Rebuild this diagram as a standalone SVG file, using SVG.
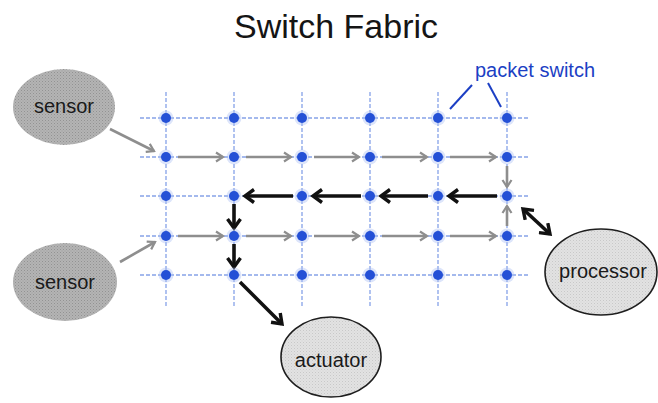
<svg xmlns="http://www.w3.org/2000/svg" width="658" height="403" viewBox="0 0 658 403">
  <defs>
    <style>
      .title { font-family: "Liberation Sans", Arial, sans-serif; font-size: 34px; fill: #151515; text-anchor: middle; }
      .label { font-family: "Liberation Sans", Arial, sans-serif; font-size: 20px; fill: #1a1a1a; text-anchor: middle; }
      .blue-label { font-family: "Liberation Sans", Arial, sans-serif; font-size: 20px; fill: #1c3fc4; }
      .grid { stroke: #86a2e8; stroke-width: 1.3; stroke-dasharray: 4 2; fill: none; }
      .halo { fill: #a9bff2; opacity: 0.4; }
      .dot { fill: #2450d6; }
      .gray { stroke: #8e8e8e; stroke-width: 2.6; fill: none; marker-end: url(#headGray); }
      .black { stroke: #111; stroke-width: 3.6; fill: none; marker-end: url(#headBlack); }
      .pointer { stroke: #1c3fc4; stroke-width: 2; fill: none; }
      .sensor { fill: url(#texDark); }
      .device { fill: url(#texLight); stroke: #1e1e1e; stroke-width: 1.6; }
    </style>
    <pattern id="texDark" width="3" height="3" patternUnits="userSpaceOnUse">
      <rect width="3" height="3" fill="#b4b4b4"/>
      <rect width="1" height="1" fill="#929292"/>
      <rect x="1.5" y="1.5" width="1" height="1" fill="#9e9e9e"/>
    </pattern>
    <pattern id="texLight" width="3" height="3" patternUnits="userSpaceOnUse">
      <rect width="3" height="3" fill="#e2e2e2"/>
      <rect width="1" height="1" fill="#c8c8c8"/>
      <rect x="1.5" y="1.5" width="1" height="1" fill="#d2d2d2"/>
    </pattern>
    <marker id="headGray" markerUnits="userSpaceOnUse" markerWidth="12" markerHeight="12" viewBox="0 0 12 12" refX="10" refY="6" orient="auto">
      <path d="M3,1.5 L10,6 L3,10.5" fill="none" stroke="#8e8e8e" stroke-width="2.2"/>
    </marker>
    <marker id="headBlack" markerUnits="userSpaceOnUse" markerWidth="16" markerHeight="16" viewBox="0 0 16 16" refX="13" refY="8" orient="auto-start-reverse">
      <path d="M4,1.5 L13,8 L4,14.5" fill="none" stroke="#111" stroke-width="3.4"/>
    </marker>
  </defs>

  <rect width="658" height="403" fill="#ffffff"/>

  <text class="title" x="336" y="38">Switch Fabric</text>

  <!-- fabric wiring: rows and columns -->
  <g id="fabric-grid">
    <line class="grid" x1="140" y1="118" x2="530" y2="118"/>
    <line class="grid" x1="140" y1="157" x2="530" y2="157"/>
    <line class="grid" x1="140" y1="196" x2="530" y2="196"/>
    <line class="grid" x1="140" y1="236" x2="530" y2="236"/>
    <line class="grid" x1="140" y1="275" x2="530" y2="275"/>
    <line class="grid" x1="166" y1="92" x2="166" y2="307"/>
    <line class="grid" x1="234" y1="92" x2="234" y2="307"/>
    <line class="grid" x1="302" y1="92" x2="302" y2="307"/>
    <line class="grid" x1="370" y1="92" x2="370" y2="307"/>
    <line class="grid" x1="438" y1="92" x2="438" y2="307"/>
    <line class="grid" x1="507" y1="92" x2="507" y2="307"/>
  </g>

  <!-- sources, sink and processor -->
  <g id="sensor-top">
    <ellipse class="sensor" cx="64" cy="107" rx="51" ry="38"/>
    <text class="label" x="64" y="113">sensor</text>
  </g>
  <g id="sensor-bottom">
    <ellipse class="sensor" cx="65" cy="282" rx="52" ry="39"/>
    <text class="label" x="65" y="289">sensor</text>
  </g>
  <g id="actuator">
    <ellipse class="device" cx="331" cy="357" rx="50" ry="40"/>
    <text class="label" x="331" y="367">actuator</text>
  </g>
  <g id="processor">
    <ellipse class="device" cx="601" cy="272" rx="56" ry="43"/>
    <text class="label" x="603" y="278">processor</text>
  </g>

  <!-- packet routes -->
  <g id="connectors">
    <!-- sensor inputs -->
    <line class="gray" x1="110" y1="129" x2="154" y2="151"/>
    <line class="gray" x1="120" y1="262" x2="155" y2="242"/>

    <!-- row 2: eastbound -->
    <line class="gray" x1="178" y1="157" x2="223" y2="157"/>
    <line class="gray" x1="246" y1="157" x2="291" y2="157"/>
    <line class="gray" x1="314" y1="157" x2="359" y2="157"/>
    <line class="gray" x1="382" y1="157" x2="427" y2="157"/>
    <line class="gray" x1="450" y1="157" x2="496" y2="157"/>
    <line class="gray" x1="507" y1="166" x2="507" y2="187"/>

    <!-- row 4: eastbound -->
    <line class="gray" x1="178" y1="236" x2="223" y2="236"/>
    <line class="gray" x1="246" y1="236" x2="291" y2="236"/>
    <line class="gray" x1="314" y1="236" x2="359" y2="236"/>
    <line class="gray" x1="382" y1="236" x2="427" y2="236"/>
    <line class="gray" x1="450" y1="236" x2="496" y2="236"/>
    <line class="gray" x1="507" y1="226" x2="507" y2="206"/>

    <!-- row 3: westbound return path -->
    <line class="black" x1="497" y1="196" x2="449" y2="196"/>
    <line class="black" x1="428" y1="196" x2="381" y2="196"/>
    <line class="black" x1="361" y1="196" x2="313" y2="196"/>
    <line class="black" x1="293" y1="196" x2="245" y2="196"/>
    <line class="black" x1="234" y1="204" x2="234" y2="228"/>
    <line class="black" x1="234" y1="244" x2="234" y2="267"/>
    <line class="black" x1="240" y1="282" x2="282" y2="324"/>

    <!-- processor link -->
    <line class="black" x1="523" y1="209" x2="550" y2="234" marker-start="url(#headBlack)"/>

    <!-- callout -->
    <line class="pointer" x1="450" y1="109" x2="472" y2="85"/>
    <line class="pointer" x1="488" y1="83" x2="501" y2="107"/>
  </g>

  <text class="blue-label" x="475" y="77">packet switch</text>

  <!-- packet switches -->
  <g id="switches">
    <g id="sw-r1">
      <circle class="halo" cx="166" cy="118" r="7.5"/><circle class="dot" cx="166" cy="118" r="5"/>
      <circle class="halo" cx="234" cy="118" r="7.5"/><circle class="dot" cx="234" cy="118" r="5"/>
      <circle class="halo" cx="302" cy="118" r="7.5"/><circle class="dot" cx="302" cy="118" r="5"/>
      <circle class="halo" cx="370" cy="118" r="7.5"/><circle class="dot" cx="370" cy="118" r="5"/>
      <circle class="halo" cx="438" cy="118" r="7.5"/><circle class="dot" cx="438" cy="118" r="5"/>
      <circle class="halo" cx="507" cy="118" r="7.5"/><circle class="dot" cx="507" cy="118" r="5"/>
    </g>
    <g id="sw-r2">
      <circle class="halo" cx="166" cy="157" r="7.5"/><circle class="dot" cx="166" cy="157" r="5"/>
      <circle class="halo" cx="234" cy="157" r="7.5"/><circle class="dot" cx="234" cy="157" r="5"/>
      <circle class="halo" cx="302" cy="157" r="7.5"/><circle class="dot" cx="302" cy="157" r="5"/>
      <circle class="halo" cx="370" cy="157" r="7.5"/><circle class="dot" cx="370" cy="157" r="5"/>
      <circle class="halo" cx="438" cy="157" r="7.5"/><circle class="dot" cx="438" cy="157" r="5"/>
      <circle class="halo" cx="507" cy="157" r="7.5"/><circle class="dot" cx="507" cy="157" r="5"/>
    </g>
    <g id="sw-r3">
      <circle class="halo" cx="166" cy="196" r="7.5"/><circle class="dot" cx="166" cy="196" r="5"/>
      <circle class="halo" cx="234" cy="196" r="7.5"/><circle class="dot" cx="234" cy="196" r="5"/>
      <circle class="halo" cx="302" cy="196" r="7.5"/><circle class="dot" cx="302" cy="196" r="5"/>
      <circle class="halo" cx="370" cy="196" r="7.5"/><circle class="dot" cx="370" cy="196" r="5"/>
      <circle class="halo" cx="438" cy="196" r="7.5"/><circle class="dot" cx="438" cy="196" r="5"/>
      <circle class="halo" cx="507" cy="196" r="7.5"/><circle class="dot" cx="507" cy="196" r="5"/>
    </g>
    <g id="sw-r4">
      <circle class="halo" cx="166" cy="236" r="7.5"/><circle class="dot" cx="166" cy="236" r="5"/>
      <circle class="halo" cx="234" cy="236" r="7.5"/><circle class="dot" cx="234" cy="236" r="5"/>
      <circle class="halo" cx="302" cy="236" r="7.5"/><circle class="dot" cx="302" cy="236" r="5"/>
      <circle class="halo" cx="370" cy="236" r="7.5"/><circle class="dot" cx="370" cy="236" r="5"/>
      <circle class="halo" cx="438" cy="236" r="7.5"/><circle class="dot" cx="438" cy="236" r="5"/>
      <circle class="halo" cx="507" cy="236" r="7.5"/><circle class="dot" cx="507" cy="236" r="5"/>
    </g>
    <g id="sw-r5">
      <circle class="halo" cx="166" cy="275" r="7.5"/><circle class="dot" cx="166" cy="275" r="5"/>
      <circle class="halo" cx="234" cy="275" r="7.5"/><circle class="dot" cx="234" cy="275" r="5"/>
      <circle class="halo" cx="302" cy="275" r="7.5"/><circle class="dot" cx="302" cy="275" r="5"/>
      <circle class="halo" cx="370" cy="275" r="7.5"/><circle class="dot" cx="370" cy="275" r="5"/>
      <circle class="halo" cx="438" cy="275" r="7.5"/><circle class="dot" cx="438" cy="275" r="5"/>
      <circle class="halo" cx="507" cy="275" r="7.5"/><circle class="dot" cx="507" cy="275" r="5"/>
    </g>
  </g>
</svg>
